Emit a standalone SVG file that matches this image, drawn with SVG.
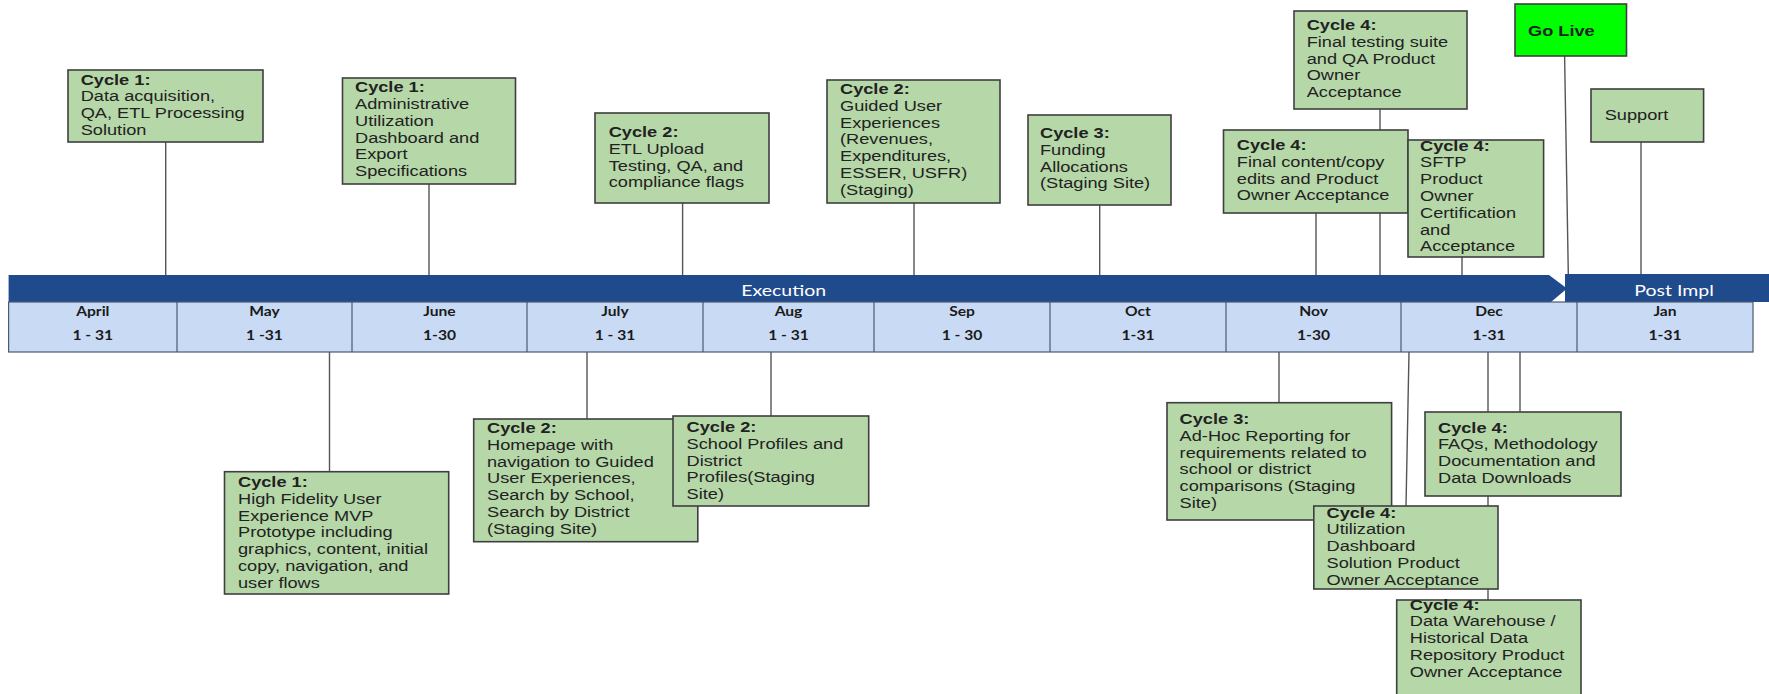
<svg xmlns="http://www.w3.org/2000/svg" width="1769" height="694" viewBox="0 0 1769 694">
<style>
.box{fill:#b6d7a8;stroke:#3f3f3f;stroke-width:1.6}
.go{fill:#00ff00;stroke:#3f3f3f;stroke-width:1.6}
.t{font-family:"Liberation Sans",Arial,sans-serif;font-size:14.5px;fill:#222}
.b{font-weight:bold}
.conn line{stroke:#555;stroke-width:1.4}
.bar{fill:#1f4a8b}
.row{fill:#c9daf4;stroke:#4b5a72;stroke-width:1.2}
.m{font-family:Lato,"Liberation Sans",sans-serif;font-weight:bold;font-size:12.5px;fill:#1a1a1a;text-anchor:middle}
.bt{font-family:Lato,"Liberation Sans",sans-serif;font-size:15px;fill:#fff;text-anchor:middle}
</style>
<rect width="1769" height="694" fill="#fff"/>
<g id="connectors" class="conn">
<line x1="165.7" y1="142" x2="165.7" y2="275"/>
<line x1="429" y1="184" x2="429" y2="275"/>
<line x1="682.6" y1="203" x2="682.6" y2="275"/>
<line x1="914" y1="203" x2="914" y2="275"/>
<line x1="1099.7" y1="205" x2="1099.7" y2="275"/>
<line x1="1380" y1="109" x2="1380" y2="275"/>
<line x1="1316" y1="213" x2="1316" y2="275"/>
<line x1="1462" y1="257" x2="1462" y2="275"/>
<line x1="1564.6" y1="56" x2="1568.4" y2="280"/>
<line x1="1641" y1="142" x2="1641" y2="275"/>
<line x1="329.5" y1="352" x2="329.5" y2="472"/>
<line x1="587" y1="352" x2="587" y2="419"/>
<line x1="771" y1="352" x2="771" y2="416"/>
<line x1="1279" y1="352" x2="1279" y2="403"/>
<line x1="1409" y1="352" x2="1406" y2="506"/>
<line x1="1488" y1="352" x2="1488" y2="600"/>
<line x1="1520" y1="352" x2="1520" y2="412"/>
</g>
<g id="timeline">
<path class="bar" d="M8.6,275 H1549 L1567,288.5 L1551,302 H8.6 Z"/>
<rect class="bar" x="1565" y="274" width="204" height="28"/>
<text class="bt" transform="translate(783.6,296) scale(1.3,1)">Execution</text>
<text class="bt" transform="translate(1674,296) scale(1.3,1)">Post Impl</text>
<rect class="row" x="8.6" y="302" width="1744.4" height="50"/>
<g style="stroke:#4b5a72;stroke-width:1.2">
<line x1="177" y1="302" x2="177" y2="352"/>
<line x1="352" y1="302" x2="352" y2="352"/>
<line x1="527" y1="302" x2="527" y2="352"/>
<line x1="703" y1="302" x2="703" y2="352"/>
<line x1="874" y1="302" x2="874" y2="352"/>
<line x1="1050" y1="302" x2="1050" y2="352"/>
<line x1="1226" y1="302" x2="1226" y2="352"/>
<line x1="1401" y1="302" x2="1401" y2="352"/>
<line x1="1577" y1="302" x2="1577" y2="352"/>
</g>
<text class="m" transform="translate(92.8,315.5) scale(1.25,1)">April</text>
<text class="m" transform="translate(92.8,340) scale(1.25,1)">1 - 31</text>
<text class="m" transform="translate(264.5,315.5) scale(1.25,1)">May</text>
<text class="m" transform="translate(264.5,340) scale(1.25,1)">1 -31</text>
<text class="m" transform="translate(439.5,315.5) scale(1.25,1)">June</text>
<text class="m" transform="translate(439.5,340) scale(1.25,1)">1-30</text>
<text class="m" transform="translate(615,315.5) scale(1.25,1)">July</text>
<text class="m" transform="translate(615,340) scale(1.25,1)">1 - 31</text>
<text class="m" transform="translate(788.5,315.5) scale(1.25,1)">Aug</text>
<text class="m" transform="translate(788.5,340) scale(1.25,1)">1 - 31</text>
<text class="m" transform="translate(962,315.5) scale(1.25,1)">Sep</text>
<text class="m" transform="translate(962,340) scale(1.25,1)">1 - 30</text>
<text class="m" transform="translate(1138,315.5) scale(1.25,1)">Oct</text>
<text class="m" transform="translate(1138,340) scale(1.25,1)">1-31</text>
<text class="m" transform="translate(1313.5,315.5) scale(1.25,1)">Nov</text>
<text class="m" transform="translate(1313.5,340) scale(1.25,1)">1-30</text>
<text class="m" transform="translate(1489,315.5) scale(1.25,1)">Dec</text>
<text class="m" transform="translate(1489,340) scale(1.25,1)">1-31</text>
<text class="m" transform="translate(1665,315.5) scale(1.25,1)">Jan</text>
<text class="m" transform="translate(1665,340) scale(1.25,1)">1-31</text>
</g>
<g id="n-data-acq">
<rect class="box" x="68" y="70" width="195" height="72"/>
<text class="t" transform="translate(80.7,84.5) scale(1.255,1)"><tspan class="b" x="0" y="0">Cycle 1:</tspan><tspan x="0" y="16.8">Data acquisition,</tspan><tspan x="0" y="33.6">QA, ETL Processing</tspan><tspan x="0" y="50.4">Solution</tspan></text>
</g>
<g id="n-admin">
<rect class="box" x="342.5" y="78" width="173" height="106"/>
<text class="t" transform="translate(355,92.3) scale(1.255,1)"><tspan class="b" x="0" y="0">Cycle 1:</tspan><tspan x="0" y="16.8">Administrative</tspan><tspan x="0" y="33.6">Utilization</tspan><tspan x="0" y="50.4">Dashboard and</tspan><tspan x="0" y="67.2">Export</tspan><tspan x="0" y="84">Specifications</tspan></text>
</g>
<g id="n-etl">
<rect class="box" x="595" y="113" width="174" height="90"/>
<text class="t" transform="translate(608.7,137) scale(1.255,1)"><tspan class="b" x="0" y="0">Cycle 2:</tspan><tspan x="0" y="16.8">ETL Upload</tspan><tspan x="0" y="33.6">Testing, QA, and</tspan><tspan x="0" y="50.4">compliance flags</tspan></text>
</g>
<g id="n-guided">
<rect class="box" x="827" y="80" width="173" height="123"/>
<text class="t" transform="translate(840,94) scale(1.255,1)"><tspan class="b" x="0" y="0">Cycle 2:</tspan><tspan x="0" y="16.8">Guided User</tspan><tspan x="0" y="33.6">Experiences</tspan><tspan x="0" y="50.4">(Revenues,</tspan><tspan x="0" y="67.2">Expenditures,</tspan><tspan x="0" y="84">ESSER, USFR)</tspan><tspan x="0" y="100.8">(Staging)</tspan></text>
</g>
<g id="n-funding">
<rect class="box" x="1028" y="115" width="143" height="90"/>
<text class="t" transform="translate(1040,138) scale(1.255,1)"><tspan class="b" x="0" y="0">Cycle 3:</tspan><tspan x="0" y="16.8">Funding</tspan><tspan x="0" y="33.6">Allocations</tspan><tspan x="0" y="50.4">(Staging Site)</tspan></text>
</g>
<g id="n-final-testing">
<rect class="box" x="1294" y="11" width="173" height="98"/>
<text class="t" transform="translate(1306.7,30) scale(1.255,1)"><tspan class="b" x="0" y="0">Cycle 4:</tspan><tspan x="0" y="16.8">Final testing suite</tspan><tspan x="0" y="33.6">and QA Product</tspan><tspan x="0" y="50.4">Owner</tspan><tspan x="0" y="67.2">Acceptance</tspan></text>
</g>
<g id="n-final-content">
<rect class="box" x="1223.5" y="130" width="184.5" height="83"/>
<text class="t" transform="translate(1236.8,150) scale(1.255,1)"><tspan class="b" x="0" y="0">Cycle 4:</tspan><tspan x="0" y="16.8">Final content/copy</tspan><tspan x="0" y="33.6">edits and Product</tspan><tspan x="0" y="50.4">Owner Acceptance</tspan></text>
</g>
<g id="n-sftp">
<rect class="box" x="1408" y="140" width="135.6" height="117"/>
<text class="t" transform="translate(1420,150.7) scale(1.255,1)"><tspan class="b" x="0" y="0">Cycle 4:</tspan><tspan x="0" y="16.8">SFTP</tspan><tspan x="0" y="33.6">Product</tspan><tspan x="0" y="50.4">Owner</tspan><tspan x="0" y="67.2">Certification</tspan><tspan x="0" y="84">and</tspan><tspan x="0" y="100.8">Acceptance</tspan></text>
</g>
<g id="n-golive">
<rect class="go" x="1515" y="4" width="111.5" height="52"/>
<text class="t b" transform="translate(1528,35.5) scale(1.255,1)">Go Live</text>
</g>
<g id="n-support">
<rect class="box" x="1591" y="89" width="112.6" height="53"/>
<text class="t" transform="translate(1604.7,120) scale(1.255,1)">Support</text>
</g>
<g id="n-high-fidelity">
<rect class="box" x="224.5" y="471.7" width="224.2" height="122.3"/>
<text class="t" transform="translate(238,487) scale(1.255,1)"><tspan class="b" x="0" y="0">Cycle 1:</tspan><tspan x="0" y="16.8">High Fidelity User</tspan><tspan x="0" y="33.6">Experience MVP</tspan><tspan x="0" y="50.4">Prototype including</tspan><tspan x="0" y="67.2">graphics, content, initial</tspan><tspan x="0" y="84">copy, navigation, and</tspan><tspan x="0" y="100.8">user flows</tspan></text>
</g>
<g id="n-homepage">
<rect class="box" x="473.7" y="419" width="224.1" height="122.7"/>
<text class="t" transform="translate(487,433) scale(1.255,1)"><tspan class="b" x="0" y="0">Cycle 2:</tspan><tspan x="0" y="16.8">Homepage with</tspan><tspan x="0" y="33.6">navigation to Guided</tspan><tspan x="0" y="50.4">User Experiences,</tspan><tspan x="0" y="67.2">Search by School,</tspan><tspan x="0" y="84">Search by District</tspan><tspan x="0" y="100.8">(Staging Site)</tspan></text>
</g>
<g id="n-school-profiles">
<rect class="box" x="673" y="416" width="195.7" height="90"/>
<text class="t" transform="translate(686.6,432) scale(1.255,1)"><tspan class="b" x="0" y="0">Cycle 2:</tspan><tspan x="0" y="16.8">School Profiles and</tspan><tspan x="0" y="33.6">District</tspan><tspan x="0" y="50.4">Profiles(Staging</tspan><tspan x="0" y="67.2">Site)</tspan></text>
</g>
<g id="n-adhoc">
<rect class="box" x="1167" y="402.7" width="224.6" height="117.3"/>
<text class="t" transform="translate(1179.6,424) scale(1.255,1)"><tspan class="b" x="0" y="0">Cycle 3:</tspan><tspan x="0" y="16.8">Ad-Hoc Reporting for</tspan><tspan x="0" y="33.6">requirements related to</tspan><tspan x="0" y="50.4">school or district</tspan><tspan x="0" y="67.2">comparisons (Staging</tspan><tspan x="0" y="84">Site)</tspan></text>
</g>
<g id="n-faqs">
<rect class="box" x="1425" y="412" width="196" height="84"/>
<text class="t" transform="translate(1438,432.7) scale(1.255,1)"><tspan class="b" x="0" y="0">Cycle 4:</tspan><tspan x="0" y="16.8">FAQs, Methodology</tspan><tspan x="0" y="33.6">Documentation and</tspan><tspan x="0" y="50.4">Data Downloads</tspan></text>
</g>
<g id="n-utilization">
<rect class="box" x="1313.8" y="506" width="184.2" height="83"/>
<text class="t" transform="translate(1326.5,517.7) scale(1.255,1)"><tspan class="b" x="0" y="0">Cycle 4:</tspan><tspan x="0" y="16.8">Utilization</tspan><tspan x="0" y="33.6">Dashboard</tspan><tspan x="0" y="50.4">Solution Product</tspan><tspan x="0" y="67.2">Owner Acceptance</tspan></text>
</g>
<g id="n-warehouse">
<rect class="box" x="1396.7" y="600" width="184.3" height="100"/>
<text class="t" transform="translate(1409.8,609.7) scale(1.255,1)"><tspan class="b" x="0" y="0">Cycle 4:</tspan><tspan x="0" y="16.8">Data Warehouse /</tspan><tspan x="0" y="33.6">Historical Data</tspan><tspan x="0" y="50.4">Repository Product</tspan><tspan x="0" y="67.2">Owner Acceptance</tspan></text>
</g>
</svg>
